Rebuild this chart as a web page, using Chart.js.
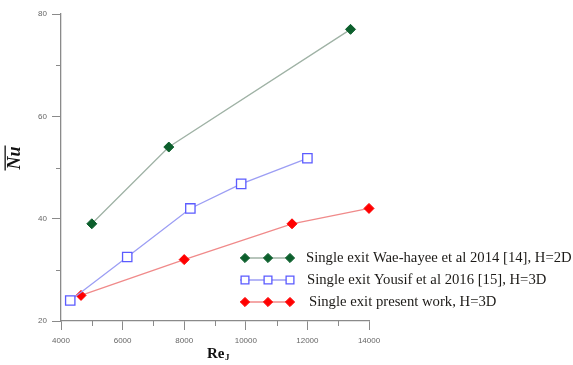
<!DOCTYPE html>
<html>
<head>
<meta charset="utf-8">
<script src="https://cdn.jsdelivr.net/npm/chart.js@4.4.1/dist/chart.umd.min.js"></script>
<style>
  html, body { margin: 0; padding: 0; background: #fff; }
  #wrap { width: 573px; height: 365px; }
</style>
</head>
<body>
<div id="wrap"><canvas id="c" width="573" height="365"></canvas></div>
<script>
// Reynolds number and average Nusselt number per study
const waeHayeeRe = [5000, 7500, 13400];
const waeHayeeNu = [39, 54, 77];
const yousifRe = [4300, 6150, 8200, 9850, 12000];
const yousifNu = [24, 32.5, 42, 46.8, 51.8];
const presentRe = [4650, 8000, 11500, 14000];
const presentNu = [25, 32, 39, 42];

const seriesLabels = [
  'Single exit Wae-hayee et al 2014 [14], H=2D',
  'Single exit Yousif et al 2016 [15], H=3D',
  'Single exit present work, H=3D'
];

// axis ticks
const xMajorTicks = [4000, 6000, 8000, 10000, 12000, 14000];
const xMinorTicks = [5000, 7000, 9000, 11000, 13000];
const yMajorTicks = [20, 40, 60, 80];
const yMinorTicks = [30, 50, 70];

const pts = (xs, ys) => xs.map((x, i) => ({ x: x, y: ys[i] }));

const AXIS = '#8a8a8a';
const TICKTXT = '#666';
const SERIF = '"Liberation Serif", "Times New Roman", serif';

// minor ticks, axis titles and the three-marker legend
const decor = {
  id: 'decor',
  afterDraw(chart) {
    const ctx = chart.ctx;
    const xs = chart.scales.x, ys = chart.scales.y;
    const area = chart.chartArea;
    ctx.save();
    ctx.strokeStyle = AXIS;
    ctx.lineWidth = 1;
    ctx.beginPath();
    xMinorTicks.forEach(v => {
      const px = Math.round(xs.getPixelForValue(v)) + 0.5;
      ctx.moveTo(px, area.bottom);
      ctx.lineTo(px, area.bottom + 5);
    });
    yMinorTicks.forEach(v => {
      const py = Math.round(ys.getPixelForValue(v)) + 0.5;
      ctx.moveTo(area.left, py);
      ctx.lineTo(area.left - 5, py);
    });
    ctx.stroke();

    // y title: Nu with overbar
    ctx.fillStyle = '#111';
    ctx.save();
    ctx.translate(15, 158);
    ctx.rotate(-Math.PI / 2);
    ctx.font = 'italic bold 18px ' + SERIF;
    ctx.textAlign = 'center';
    ctx.textBaseline = 'middle';
    ctx.fillText('Nu', 0, 0);
    const w = ctx.measureText('Nu').width;
    ctx.fillRect(-w / 2 - 1, -10.5, w + 2, 1.3);
    ctx.restore();

    // x title: Re with subscript J
    ctx.font = 'bold 15px ' + SERIF;
    ctx.textBaseline = 'alphabetic';
    ctx.textAlign = 'left';
    const reW = ctx.measureText('Re').width;
    ctx.font = 'bold 9px ' + SERIF;
    const jW = ctx.measureText('J').width;
    const startX = (area.left + area.right) / 2 + 3 - (reW + jW) / 2;
    ctx.font = 'bold 15px ' + SERIF;
    ctx.fillText('Re', startX, 358);
    ctx.font = 'bold 9px ' + SERIF;
    ctx.fillText('J', startX + reW + 0.5, 360);

    // legend
    const rows = [258, 280, 302];
    const textX = [306, 307, 309];
    chart.data.datasets.forEach((ds, i) => {
      const y = rows[i];
      ctx.strokeStyle = ds.borderColor;
      ctx.lineWidth = 1.3;
      ctx.beginPath();
      ctx.moveTo(240, y);
      ctx.lineTo(292, y);
      ctx.stroke();
      [245, 268, 290].forEach(x => {
        ctx.fillStyle = ds.pointBackgroundColor;
        ctx.strokeStyle = ds.pointBorderColor;
        ctx.lineWidth = ds.pointBorderWidth;
        Chart.helpers.drawPoint(ctx, {
          pointStyle: ds.pointStyle,
          radius: ds.pointStyle === 'rect' ? 5.5 : 4.6,
          rotation: 0,
          borderWidth: ds.pointBorderWidth
        }, x, y);
      });
      ctx.fillStyle = '#1c1a17';
      ctx.font = '14.7px ' + SERIF;
      ctx.textBaseline = 'middle';
      ctx.fillText(seriesLabels[i], textX[i], y);
    });
    ctx.restore();
  }
};

new Chart(document.getElementById('c'), {
  type: 'line',
  data: {
    datasets: [
      {
        label: seriesLabels[0],
        data: pts(waeHayeeRe, waeHayeeNu),
        borderColor: '#9fb2a5',
        borderWidth: 1.3,
        pointStyle: 'rectRot',
        pointRadius: 5,
        pointBackgroundColor: '#0c5f2c',
        pointBorderColor: '#0c5f2c',
        pointBorderWidth: 1
      },
      {
        label: seriesLabels[1],
        data: pts(yousifRe, yousifNu),
        borderColor: '#9c9ef4',
        borderWidth: 1.3,
        pointStyle: 'rect',
        pointRadius: 6.6,
        pointBackgroundColor: '#ffffff',
        pointBorderColor: '#5b5bff',
        pointBorderWidth: 1.3
      },
      {
        label: seriesLabels[2],
        data: pts(presentRe, presentNu),
        borderColor: '#f08a8a',
        borderWidth: 1.3,
        pointStyle: 'rectRot',
        pointRadius: 5,
        pointBackgroundColor: '#ff0000',
        pointBorderColor: '#ff0000',
        pointBorderWidth: 1
      }
    ]
  },
  options: {
    responsive: false,
    animation: false,
    devicePixelRatio: 1,
    clip: false,
    layout: { padding: { top: 14, right: 204, left: 0, bottom: 0 } },
    plugins: { legend: { display: false }, tooltip: { enabled: false } },
    elements: { line: { tension: 0 } },
    scales: {
      x: {
        type: 'linear',
        min: 4000,
        max: 14000,
        afterBuildTicks: s => { s.ticks = xMajorTicks.map(v => ({ value: v })); },
        afterFit: s => { s.height = 44; },
        border: { display: true, color: AXIS, width: 1.3 },
        grid: { drawOnChartArea: false, drawTicks: true, tickLength: 9, color: AXIS, tickColor: AXIS },
        ticks: {
          callback: v => String(v),
          color: TICKTXT,
          font: { family: 'Arial, "Liberation Sans", sans-serif', size: 8 },
          padding: 6,
          maxRotation: 0
        }
      },
      y: {
        type: 'linear',
        min: 20,
        max: 80,
        afterBuildTicks: s => { s.ticks = yMajorTicks.map(v => ({ value: v })); },
        afterFit: s => { s.width = 61; },
        border: { display: true, color: AXIS, width: 1.3 },
        grid: { drawOnChartArea: false, drawTicks: true, tickLength: 9, color: AXIS, tickColor: AXIS },
        ticks: {
          callback: v => String(v),
          color: TICKTXT,
          font: { family: 'Arial, "Liberation Sans", sans-serif', size: 8 },
          padding: 5
        }
      }
    }
  },
  plugins: [decor]
});
</script>
</body>
</html>
